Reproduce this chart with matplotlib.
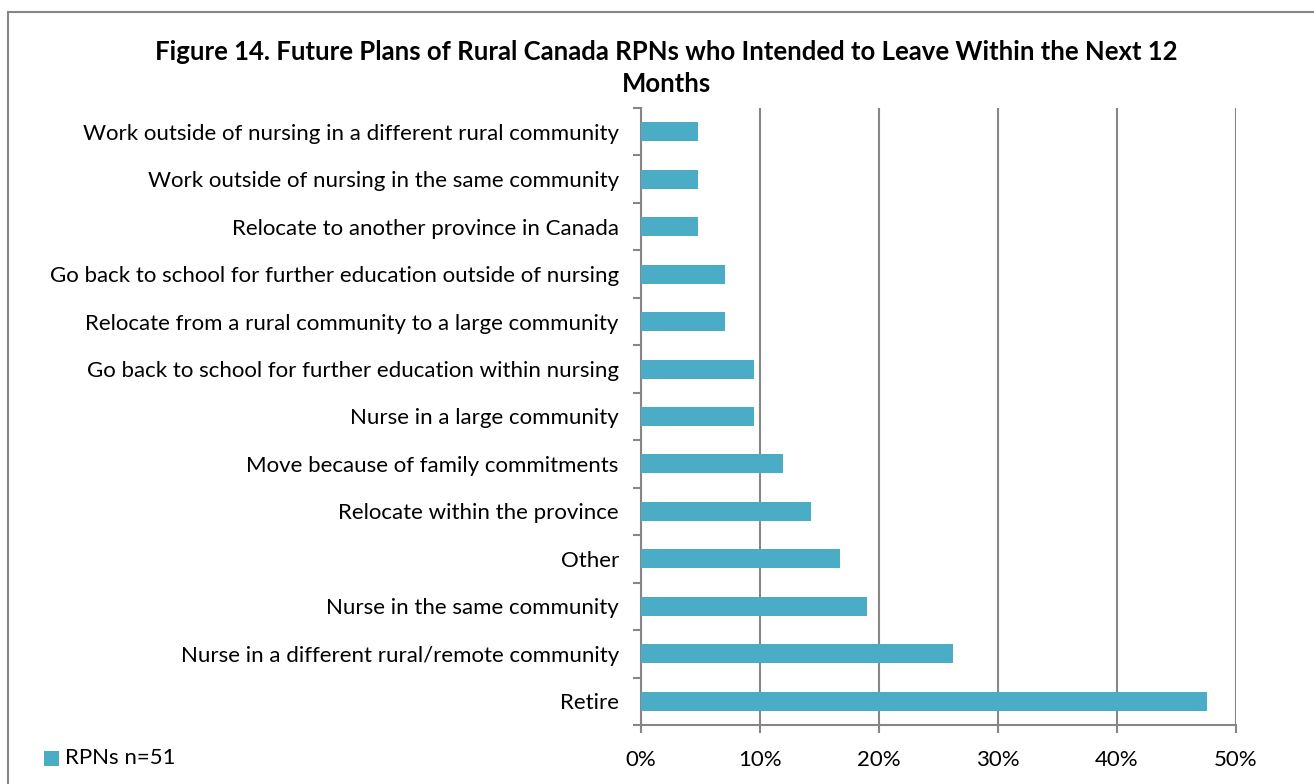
import matplotlib
matplotlib.use("Agg")
import matplotlib.pyplot as plt
from matplotlib.patches import Rectangle

categories = [
    "Retire",
    "Nurse in a different rural/remote community",
    "Nurse in the same community",
    "Other",
    "Relocate within the province",
    "Move because of family commitments",
    "Nurse in a large community",
    "Go back to school for further education within nursing",
    "Relocate from a rural community to a large community",
    "Go back to school for further education outside of nursing",
    "Relocate to another province in Canada",
    "Work outside of nursing in the same community",
    "Work outside of nursing in a different rural community",
]
values = [47.6, 26.2, 19.0, 16.7, 14.3, 11.9, 9.5, 9.5, 7.1, 7.1, 4.8, 4.8, 4.8]
xticks = [0, 10, 20, 30, 40, 50]
xtick_labels = ["0%", "10%", "20%", "30%", "40%", "50%"]
series_name = "RPNs n=51"
title = "Figure 14. Future Plans of Rural Canada RPNs who Intended to Leave Within the Next 12\nMonths"

plt.rcParams['font.family'] = ['Lato', 'DejaVu Sans']
color = "#4BACC6"
grid_c = "#868686"
fs = 16

fig = plt.figure(figsize=(13.14, 7.84), dpi=100)
ax = fig.add_axes([641/1314, 1-725/784, (1236-641)/1314, (725-108)/784])

y = list(range(len(categories)))
ax.barh(y, values, height=0.4, color=color, zorder=3)
ax.set_ylim(-0.5, len(categories)-0.5)
ax.set_xlim(0, 50)
ax.set_xticks(xticks)
ax.set_xticklabels(xtick_labels, fontsize=fs)
ax.set_yticks(y)
ax.set_yticklabels(categories, fontsize=fs)
ax.tick_params(axis='y', length=0, pad=16)
# category boundary ticks
ax.set_yticks([i-0.5 for i in range(len(categories)+1)], minor=True)
ax.tick_params(axis='y', which='minor', length=6, width=1.5, color=grid_c, direction='out')
ax.tick_params(axis='x', length=6, width=1.5, color=grid_c, direction='out', pad=12)
ax.grid(axis='x', color=grid_c, linewidth=1.5, zorder=0)
for s in ['top', 'right']:
    ax.spines[s].set_visible(False)
for s in ['left', 'bottom']:
    ax.spines[s].set_color(grid_c)
    ax.spines[s].set_linewidth(1.5)

fig.text(666/1314, 1-68/784, title, ha='center', va='center', fontsize=18.5,
         fontweight='bold', linespacing=1.42)

# outer frame
fig.patches.append(Rectangle((8/1314, -0.01), 1.1, 1-12/784+0.01, transform=fig.transFigure,
                             fill=False, edgecolor=grid_c, linewidth=1.5))

# legend
fig.patches.append(Rectangle((44/1314, 1-766/784), 15/1314, 15/784, transform=fig.transFigure,
                             facecolor=color, edgecolor='none'))
fig.text(65/1314, 1-758/784, series_name, ha='left', va='center', fontsize=fs)

fig.savefig("out.png", dpi=100)
